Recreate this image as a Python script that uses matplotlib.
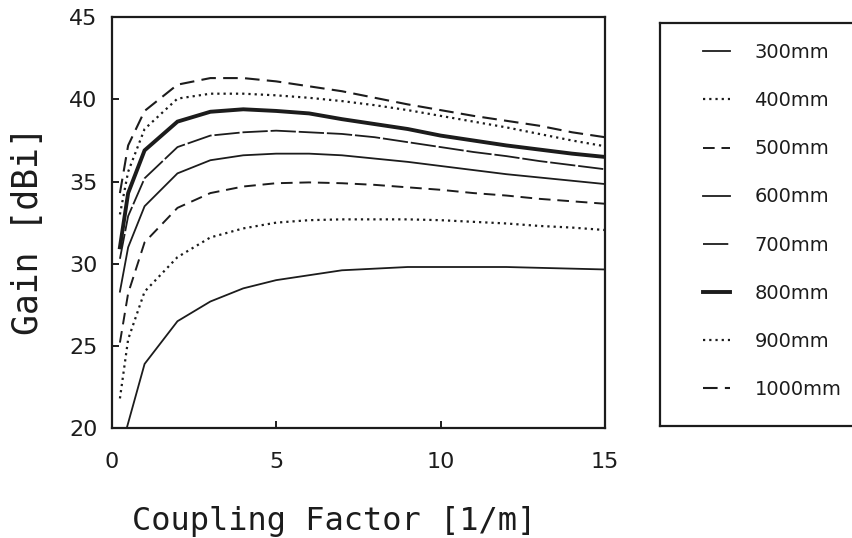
import matplotlib
matplotlib.use("Agg")
import matplotlib.pyplot as plt

# ---- data ----
coupling = [0.25, 0.5, 1, 2, 3, 4, 5, 6, 7, 8, 9, 10, 11, 12, 13, 14, 15]
labels = ["300mm", "400mm", "500mm", "600mm", "700mm", "800mm", "900mm", "1000mm"]
g300 = [18.5, 20.3, 23.9, 26.5, 27.7, 28.5, 29.0, 29.3, 29.6, 29.7, 29.8, 29.8, 29.8, 29.8, 29.75, 29.7, 29.65]
g400 = [21.8, 25.4, 28.3, 30.4, 31.6, 32.15, 32.5, 32.65, 32.7, 32.7, 32.7, 32.65, 32.55, 32.45, 32.3, 32.2, 32.05]
g500 = [25.2, 28.2, 31.3, 33.4, 34.3, 34.7, 34.9, 34.95, 34.9, 34.8, 34.65, 34.5, 34.3, 34.15, 33.95, 33.8, 33.65]
g600 = [28.3, 31.0, 33.5, 35.5, 36.3, 36.6, 36.7, 36.7, 36.6, 36.4, 36.2, 35.95, 35.7, 35.45, 35.25, 35.05, 34.85]
g700 = [30.3, 32.9, 35.2, 37.1, 37.8, 38.0, 38.1, 38.0, 37.9, 37.7, 37.4, 37.1, 36.8, 36.55, 36.25, 36.0, 35.75]
g800 = [31.0, 34.3, 36.9, 38.65, 39.25, 39.4, 39.3, 39.15, 38.8, 38.5, 38.2, 37.8, 37.5, 37.2, 36.95, 36.7, 36.5]
g900 = [33.0, 35.6, 38.2, 40.05, 40.35, 40.35, 40.25, 40.1, 39.9, 39.65, 39.35, 39.0, 38.65, 38.3, 37.9, 37.5, 37.15]
g1000 = [34.3, 37.2, 39.3, 40.9, 41.3, 41.3, 41.1, 40.8, 40.5, 40.1, 39.7, 39.35, 39.0, 38.7, 38.4, 38.0, 37.7]
series = [g300, g400, g500, g600, g700, g800, g900, g1000]
xticks = [0, 5, 10, 15]
yticks = [20, 25, 30, 35, 40, 45]

# ---- styles ----
ink = "#1c1c1c"
styles = [
    dict(ls="-", lw=1.3),
    dict(ls=(0, (1, 1.8)), lw=1.6),
    dict(ls=(0, (6, 3.5)), lw=1.4),
    dict(ls="-", lw=1.3),
    dict(ls=(0, (14, 1.6)), lw=1.3),
    dict(ls="-", lw=2.8),
    dict(ls=(0, (1, 1.8)), lw=1.6),
    dict(ls=(0, (7, 3.5)), lw=1.5),
]

fig = plt.figure(figsize=(8.53, 5.38), dpi=100)
ax = fig.add_axes([111.7 / 853, 1 - 428 / 538, (605 - 111.7) / 853, (428 - 17.3) / 538])

handles = []
for y, lab, st in zip(series, labels, styles):
    (h,) = ax.plot(coupling, y, color=ink, linestyle=st["ls"], linewidth=st["lw"],
                   solid_joinstyle="miter", label=lab)
    handles.append(h)

ax.set_xlim(0, 15)
ax.set_ylim(20, 45)
ax.set_xticks(xticks)
ax.set_yticks(yticks)
ax.tick_params(direction="in", length=5, width=1.4, color=ink, labelcolor=ink,
               labelsize=16)
ax.tick_params(axis="x", pad=17)
ax.tick_params(axis="y", pad=10)
for lab in ax.get_xticklabels() + ax.get_yticklabels():
    lab.set_fontfamily("DejaVu Sans")
for sp in ax.spines.values():
    sp.set_linewidth(1.6)
    sp.set_color(ink)

mono = "DejaVu Sans Mono"
ax.set_xlabel("Coupling Factor [1/m]", fontsize=23, family=mono, color=ink)
ax.xaxis.set_label_coords((334 - 111.7) / 493.3, -0.19)
ax.set_ylabel("Gain [dBi]", fontsize=25, family=mono, color=ink)
ax.yaxis.set_label_coords((45 - 111.7) / 493.3, 0.48)

# legend box
lax = fig.add_axes([660 / 853, 1 - 426 / 538, 0.30, (426 - 23) / 538])
lax.set_xticks([])
lax.set_yticks([])
for sp in lax.spines.values():
    sp.set_linewidth(1.6)
    sp.set_color(ink)
leg = lax.legend(handles, labels, loc="upper left",
                 bbox_to_anchor=(703 / 853, 1 - 43 / 538), bbox_transform=fig.transFigure,
                 frameon=False, fontsize=14, handlelength=1.4, handletextpad=1.25,
                 labelspacing=1.5, borderpad=0, borderaxespad=0)
for t in leg.get_texts():
    t.set_color(ink)

fig.savefig("out.png", dpi=100)
